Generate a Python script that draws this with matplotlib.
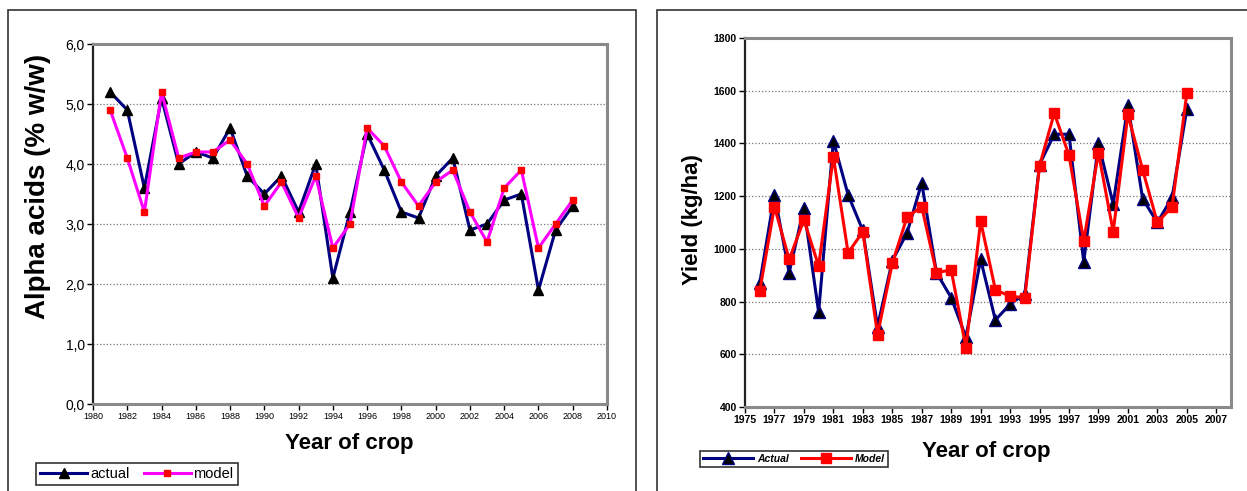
import matplotlib
matplotlib.use("Agg")
import matplotlib.pyplot as plt
from matplotlib.patches import Rectangle
from matplotlib.ticker import FuncFormatter, MultipleLocator, FixedLocator

plt.rcParams['font.family'] = ['Liberation Sans', 'DejaVu Sans']

# Alpha acids (left)
years_alpha = list(range(1981, 2009))
alpha_actual = [5.2, 4.9, 3.6, 5.1, 4.0, 4.2, 4.1, 4.6, 3.8, 3.5, 3.8, 3.2, 4.0, 2.1,
                3.2, 4.5, 3.9, 3.2, 3.1, 3.8, 4.1, 2.9, 3.0, 3.4, 3.5, 1.9, 2.9, 3.3]
alpha_model = [4.9, 4.1, 3.2, 5.2, 4.1, 4.2, 4.2, 4.4, 4.0, 3.3, 3.7, 3.1, 3.8, 2.6,
               3.0, 4.6, 4.3, 3.7, 3.3, 3.7, 3.9, 3.2, 2.7, 3.6, 3.9, 2.6, 3.0, 3.4]

# Yield (right)
years_yield = list(range(1976, 2006))
yield_actual = [870, 1205, 910, 1155, 760, 1410, 1205, 1070, 705, 955,
                1060, 1250, 910, 815, 665, 960, 730, 790, 830, 1320,
                1435, 1435, 950, 1400, 1170, 1545, 1190, 1100, 1195, 1530]
yield_model = [840, 1160, 960, 1110, 935, 1350, 985, 1065, 675, 945,
               1120, 1160, 910, 920, 625, 1105, 845, 820, 815, 1315,
               1515, 1355, 1030, 1365, 1065, 1510, 1300, 1100, 1160, 1590]
yield_xticks = list(range(1975, 2008, 2))

W, H = 1247, 491
fig = plt.figure(figsize=(W / 100, H / 100), dpi=100)


def fx(px):
    return px / W


def fy(py):
    return 1 - py / H


# panel frames
fig.add_artist(Rectangle((fx(8), -0.05), fx(628), fy(10) + 0.05, transform=fig.transFigure,
                         fill=False, edgecolor='#333333', lw=1.2))
fig.add_artist(Rectangle((fx(657), -0.05), fx(640), fy(10) + 0.05, transform=fig.transFigure,
                         fill=False, edgecolor='#333333', lw=1.2))


def style_axes(ax):
    for s in ['top', 'right', 'bottom']:
        ax.spines[s].set_color('#8a8a8a')
        ax.spines[s].set_linewidth(2.2)
    ax.spines['left'].set_color('#222222')
    ax.spines['left'].set_linewidth(1.6)
    ax.yaxis.grid(True, linestyle=':', color='#777777', lw=0.9)
    ax.set_axisbelow(True)
    ax.tick_params(direction='out', length=4, width=1, pad=2)


# ---- left chart
ax1 = fig.add_axes([fx(93), fy(404), fx(607 - 93), (404 - 44) / H])
ax1.plot(years_alpha, alpha_actual, color='#000080', lw=2.2, marker='^',
         ms=6.5, mfc='black', mec='black', label='actual', zorder=3)
ax1.plot(years_alpha, alpha_model, color='#ff00ff', lw=2.2, marker='s',
         ms=5, mfc='red', mec='red', label='model', zorder=4)
ax1.set_xlim(1980, 2010)
ax1.set_ylim(0, 6)
ax1.xaxis.set_major_locator(MultipleLocator(2))
ax1.yaxis.set_major_locator(MultipleLocator(1))
ax1.yaxis.set_major_formatter(FuncFormatter(lambda v, p: f"{v:.1f}".replace('.', ',')))
style_axes(ax1)
ax1.tick_params(axis='x', labelsize=6.5)
ax1.tick_params(axis='y', labelsize=10)
fig.text(fx(38), fy(186), 'Alpha acids (% w/w)', rotation=90, ha='center', va='center',
         fontsize=20, fontweight='bold')
fig.text(fx(349), fy(443), 'Year of crop', ha='center', va='center',
         fontsize=16, fontweight='bold')
leg1 = fig.legend(*ax1.get_legend_handles_labels(), loc='center', ncol=2,
                  bbox_to_anchor=(fx(137), fy(474)), fontsize=10.5, frameon=True,
                  fancybox=False, edgecolor='black', handlelength=3.2,
                  handletextpad=0.2, columnspacing=1.0, borderpad=0.3)
leg1.get_frame().set_linewidth(1.2)

# ---- right chart
ax2 = fig.add_axes([fx(745), fy(407), fx(1231 - 745), (407 - 38) / H])
ax2.plot(years_yield, yield_actual, color='#000080', lw=2.2, marker='^',
         ms=8, mfc='black', mec='#000080', mew=1, label='Actual', zorder=3)
ax2.plot(years_yield, yield_model, color='#ff0000', lw=2.2, marker='s',
         ms=6.5, mfc='red', mec='red', label='Model', zorder=4)
ax2.set_xlim(1975, 2008)
ax2.set_ylim(400, 1800)
ax2.xaxis.set_major_locator(FixedLocator(yield_xticks))
ax2.yaxis.set_major_locator(MultipleLocator(200))
style_axes(ax2)
ax2.tick_params(axis='both', labelsize=7.5)
for lbl in ax2.get_xticklabels() + ax2.get_yticklabels():
    lbl.set_fontweight('bold')
fig.text(fx(692), fy(220), 'Yield (kg/ha)', rotation=90, ha='center', va='center',
         fontsize=16, fontweight='bold')
fig.text(fx(986), fy(452), 'Year of crop', ha='center', va='center',
         fontsize=16, fontweight='bold')
leg2 = fig.legend(*ax2.get_legend_handles_labels(), loc='center', ncol=2,
                  bbox_to_anchor=(fx(794), fy(459)),
                  prop={'size': 7.5, 'weight': 'bold', 'style': 'italic'},
                  frameon=True, fancybox=False, edgecolor='black', handlelength=4.8,
                  handletextpad=0.4, columnspacing=1.2, borderpad=0.3)
leg2.get_frame().set_linewidth(1.2)

fig.savefig('out.png', dpi=100)
